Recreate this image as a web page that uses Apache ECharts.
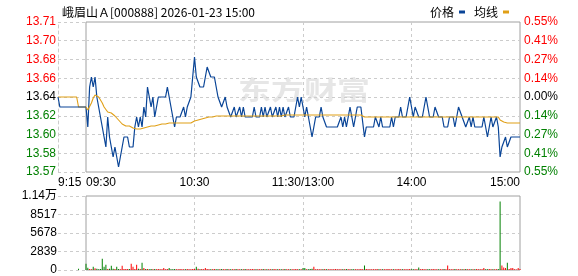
<!DOCTYPE html>
<html><head><meta charset="utf-8">
<script src="https://cdn.jsdelivr.net/npm/echarts@6/dist/echarts.min.js"></script>
<style>html,body{margin:0;padding:0;background:#fff}#c{width:578px;height:276px}</style>
</head><body><div id="c"></div>
<script>
// ---------- data ----------
const titleText = '峨眉山Ａ[000888] 2026-01-23 15:00';
const legendNames = ['价格', '均线'];
const prevClose = 13.64;
const priceTickLabels = ['13.57','13.58','13.60','13.62','13.64','13.66','13.68','13.70','13.71'];
const pctTickLabels = ['0.55%','0.41%','0.27%','0.14%','0.00%','0.14%','0.27%','0.41%','0.55%'];
const volTickLabels = ['0','2839','5678','8517','1.14万'];
const volAxisMax = 11356;
const timeTickLabels = {0:'09:30', 60:'10:30', 120:'11:30/13:00', 180:'14:00', 240:'15:00'};
const preTickLabel = '9:15';

// pre-market (minutes relative to 09:30)
const preTimes = [-15, -14, -5, -4, 0];
const prePrice = [13.64, 13.63, 13.63, 13.63, 13.63];
const preAvg   = [13.64, 13.64, 13.64, 13.63, 13.63];
const preVolTimes = [-4];
const preVol = [200];

// minute prices 09:30 .. 15:00 (241 points)
const price = [
13.63,13.61,13.65,13.66,13.65,13.66,13.64,13.63,13.62,13.61,
13.60,13.59,13.62,13.60,13.59,13.58,13.59,13.58,13.57,13.57,
13.59,13.60,13.60,13.60,13.59,13.59,13.59,13.61,13.62,13.61,
13.62,13.61,13.63,13.62,13.65,13.64,13.63,13.64,13.62,13.63,
13.64,13.64,13.64,13.64,13.64,13.65,13.64,13.63,13.62,13.61,
13.62,13.62,13.62,13.62,13.63,13.62,13.63,13.63,13.64,13.66,
13.68,13.66,13.66,13.65,13.65,13.65,13.66,13.67,13.67,13.66,
13.66,13.66,13.65,13.64,13.64,13.63,13.63,13.64,13.63,13.63,
13.62,13.62,13.63,13.62,13.62,13.63,13.62,13.63,13.62,13.62,
13.62,13.62,13.62,13.63,13.62,13.62,13.62,13.63,13.62,13.63,
13.62,13.62,13.63,13.62,13.62,13.63,13.62,13.63,13.62,13.63,
13.62,13.62,13.63,13.62,13.62,13.62,13.63,13.64,13.63,13.64,
13.63,13.62,13.63,13.62,13.61,13.60,13.61,13.62,13.62,13.62,
13.63,13.62,13.62,13.61,13.61,13.61,13.61,13.61,13.61,13.61,
13.61,13.62,13.61,13.62,13.61,13.62,13.63,13.62,13.61,13.62,
13.63,13.63,13.63,13.63,13.60,13.61,13.61,13.61,13.61,13.61,
13.62,13.62,13.61,13.62,13.61,13.61,13.61,13.61,13.61,13.62,
13.61,13.62,13.62,13.62,13.63,13.62,13.62,13.62,13.63,13.64,
13.63,13.62,13.63,13.63,13.62,13.62,13.62,13.63,13.64,13.63,
13.62,13.62,13.62,13.63,13.63,13.62,13.62,13.62,13.61,13.61,
13.61,13.62,13.62,13.62,13.61,13.61,13.63,13.63,13.62,13.62,
13.61,13.61,13.62,13.61,13.62,13.61,13.61,13.61,13.61,13.61,
13.62,13.61,13.60,13.61,13.62,13.61,13.61,13.62,13.61,13.58,
13.59,13.59,13.60,13.59,13.59,13.60,13.60,13.60,13.60,13.60,13.60
];

// average price line (241 points)
const avg = [
13.630,13.627,13.626,13.634,13.639,13.642,13.642,13.640,13.639,13.634,
13.630,13.628,13.625,13.624,13.624,13.622,13.621,13.619,13.617,13.616,
13.613,13.612,13.611,13.611,13.611,13.610,13.609,13.609,13.608,13.608,
13.608,13.608,13.609,13.609,13.610,13.610,13.611,13.611,13.611,13.611,
13.612,13.612,13.613,13.613,13.613,13.613,13.614,13.614,13.614,13.614,
13.614,13.614,13.614,13.614,13.614,13.614,13.614,13.614,13.614,13.614,
13.616,13.616,13.617,13.617,13.618,13.618,13.619,13.619,13.620,13.620,
13.620,13.621,13.621,13.621,13.621,13.621,13.621,13.621,13.621,13.621,
13.621,13.621,13.621,13.621,13.621,13.621,13.621,13.621,13.621,13.621,
13.621,13.621,13.621,13.621,13.621,13.621,13.621,13.621,13.621,13.621,
13.621,13.621,13.621,13.621,13.621,13.621,13.621,13.621,13.621,13.621,
13.622,13.622,13.622,13.622,13.622,13.622,13.622,13.622,13.622,13.622,
13.622,13.622,13.622,13.622,13.622,13.622,13.622,13.622,13.622,13.622,
13.622,13.622,13.622,13.622,13.622,13.622,13.622,13.622,13.622,13.622,
13.622,13.622,13.622,13.622,13.622,13.622,13.622,13.622,13.622,13.622,
13.622,13.622,13.622,13.622,13.620,13.620,13.620,13.620,13.620,13.620,
13.620,13.620,13.620,13.620,13.620,13.620,13.620,13.620,13.620,13.620,
13.620,13.620,13.620,13.620,13.620,13.620,13.620,13.620,13.620,13.620,
13.620,13.620,13.620,13.620,13.620,13.620,13.620,13.620,13.620,13.620,
13.620,13.620,13.620,13.620,13.620,13.620,13.620,13.620,13.620,13.620,
13.620,13.620,13.620,13.620,13.620,13.620,13.620,13.620,13.620,13.620,
13.620,13.620,13.620,13.620,13.620,13.620,13.620,13.620,13.620,13.620,
13.620,13.620,13.620,13.620,13.620,13.620,13.620,13.620,13.620,13.617,
13.616,13.615,13.6145,13.614,13.614,13.614,13.614,13.614,13.614,13.614,13.614
];

// minute volume (241 points)
const vol = [
950,350,150,120,510,250,200,120,150,1740,
510,820,150,200,660,200,150,510,150,120,
660,150,150,150,150,970,510,150,820,200,
150,1120,300,150,150,120,150,100,150,120,
150,100,120,300,120,150,300,120,100,150,
120,100,150,120,100,120,150,100,120,150,
150,510,200,120,150,120,300,150,120,100,
120,150,100,130,120,150,100,120,140,100,
130,120,100,150,120,100,130,120,150,100,
120,100,140,120,100,130,120,100,150,120,
100,130,120,100,150,120,100,130,120,100,
140,120,100,130,120,100,150,120,130,100,
300,300,120,100,150,200,510,120,100,130,
120,100,150,120,100,130,120,100,150,120,
100,130,120,100,150,120,100,130,120,100,
120,100,150,120,700,150,120,100,130,120,
100,150,120,100,130,120,100,150,120,100,
130,120,100,150,120,100,130,120,100,150,
120,100,130,120,400,100,150,120,100,130,
120,100,150,120,100,130,120,100,150,120,
700,130,120,100,150,120,100,130,120,100,
150,120,100,130,120,100,150,120,100,130,
300,120,100,150,120,100,130,120,150,10500,
700,400,300,1120,150,300,300,100,80,300,150
];

// ---------- chart ----------
const HALF = 0.075;          // axis half-range around previous close
const STEP = HALF / 4;
const BLUE = '#0a4597', GOLD = '#e09f16', RED = '#ff0000', GREEN = '#008000';
const FONT = 'Liberation Sans, Noto Sans CJK SC, sans-serif';
const dashed = {show: true, lineStyle: {type: [3, 3], color: '#cccccc', width: 1}};
const idx = v => Math.round(v / STEP) + 4;
const sideColor = v => { const k = Math.round(v / STEP); return k > 0 ? RED : (k < 0 ? GREEN : '#000000'); };

const chart = echarts.init(document.getElementById('c'));
const priceY = (pos, grid, labels, showExtremes, margin, axisLineShow) => ({
  type: 'value', gridIndex: grid, position: pos, min: -HALF, max: HALF, interval: STEP,
  axisLine: {show: axisLineShow, onZero: false, lineStyle: {type: [3, 3], color: '#cccccc'}},
  axisTick: {show: false},
  axisLabel: {margin: margin, fontFamily: FONT, fontSize: 12,
    formatter: v => labels[idx(v)], color: v => sideColor(v)},
  splitLine: Object.assign({showMinLine: showExtremes, showMaxLine: showExtremes}, dashed)
});
const volY = (pos, grid, showLabels, showExtremes) => ({
  type: 'value', gridIndex: grid, position: pos, min: 0, max: volAxisMax, interval: volAxisMax / 4,
  axisLine: {show: false, onZero: false}, axisTick: {show: false},
  axisLabel: {show: showLabels, margin: 1, fontFamily: FONT, fontSize: 12, color: '#000',
    formatter: v => volTickLabels[Math.round(v / (volAxisMax / 4))]},
  splitLine: Object.assign({showMinLine: showExtremes, showMaxLine: showExtremes}, dashed)
});

chart.setOption({
  animation: false,
  title: {text: titleText, left: 57, top: 1,
    textStyle: {fontSize: 12, fontWeight: 'normal', color: '#000', fontFamily: 'Noto Sans CJK SC'}},
  legend: {data: legendNames, right: 64, top: 1, align: 'right', icon: 'rect',
    itemWidth: 6, itemHeight: 3, itemGap: 9,
    textStyle: {fontSize: 12, color: '#000', fontFamily: 'Noto Sans CJK SC'}},
  graphic: [{type: 'text', left: 238, top: 77, z: 0, silent: true, scaleX: 1.27,
    style: {text: '东方财富', font: 'bold 26px "Noto Sans CJK SC"', fill: '#e6e6e6'}}],
  grid: [
    {left: 58, top: 22, width: 28, height: 150},
    {left: 86, top: 22, width: 434, height: 150, show: true, borderColor: '#a0a0a0', borderWidth: 1, backgroundColor: 'transparent'},
    {left: 58, top: 196, width: 28, height: 74},
    {left: 86, top: 196, width: 434, height: 74, show: true, borderColor: '#a0a0a0', borderWidth: 1, backgroundColor: 'transparent'}
  ],
  xAxis: [
    {type: 'value', gridIndex: 0, min: -15, max: 0, interval: 15,
      axisLine: {show: false, onZero: false}, axisTick: {show: false}, splitLine: {show: false},
      axisLabel: {margin: 5, fontFamily: FONT, fontSize: 12, color: '#000', alignMinLabel: 'left',
        formatter: v => (v === -15 ? preTickLabel : '')}},
    {type: 'value', gridIndex: 1, min: 0, max: 240, interval: 60,
      axisLine: {show: false, onZero: false}, axisTick: {show: false},
      splitLine: Object.assign({showMinLine: false, showMaxLine: false}, dashed),
      axisLabel: {margin: 5, fontFamily: FONT, fontSize: 12, color: '#000',
        alignMinLabel: 'left', alignMaxLabel: 'right', formatter: v => timeTickLabels[v] || ''}},
    {type: 'value', gridIndex: 2, min: -15, max: 0, interval: 15,
      axisLine: {show: false, onZero: false}, axisTick: {show: false}, splitLine: {show: false},
      axisLabel: {show: false}},
    {type: 'value', gridIndex: 3, min: 0, max: 240, interval: 60,
      axisLine: {show: false, onZero: false}, axisTick: {show: false},
      splitLine: Object.assign({showMinLine: false, showMaxLine: false}, dashed),
      axisLabel: {show: false}}
  ],
  yAxis: [
    priceY('left', 0, priceTickLabels, true, 2, true),
    priceY('right', 1, pctTickLabels, false, 4, false),
    volY('left', 2, true, true),
    volY('right', 3, false, false)
  ],
  series: [
    {name: legendNames[0], type: 'line', xAxisIndex: 0, yAxisIndex: 0, symbol: 'none', z: 4,
      color: BLUE, lineStyle: {width: 1.2, color: BLUE},
      data: preTimes.map((t, k) => [t, prePrice[k] - prevClose])},
    {name: legendNames[1], type: 'line', xAxisIndex: 0, yAxisIndex: 0, symbol: 'none', z: 3,
      color: GOLD, lineStyle: {width: 1.1, color: GOLD},
      data: preTimes.map((t, k) => [t, preAvg[k] - prevClose])},
    {name: legendNames[0], type: 'line', xAxisIndex: 1, yAxisIndex: 1, symbol: 'none', z: 3,
      color: BLUE, lineStyle: {width: 1.2, color: BLUE},
      data: price.map((p, i) => [i, p - prevClose])},
    {name: legendNames[1], type: 'line', xAxisIndex: 1, yAxisIndex: 1, symbol: 'none', z: 4,
      color: GOLD, lineStyle: {width: 1.1, color: GOLD},
      data: avg.map((p, i) => [i, p - prevClose])},
    {type: 'bar', xAxisIndex: 2, yAxisIndex: 2, barWidth: 1,
      data: preVolTimes.map((t, k) => ({value: [t, preVol[k]], itemStyle: {color: GREEN}}))},
    {type: 'bar', xAxisIndex: 3, yAxisIndex: 3, barWidth: 1,
      data: vol.map((v, i) => ({value: [i, v],
        itemStyle: {color: price[i] >= (i === 0 ? prevClose : price[i - 1]) ? RED : GREEN}}))}
  ]
});
</script>
</body></html>
